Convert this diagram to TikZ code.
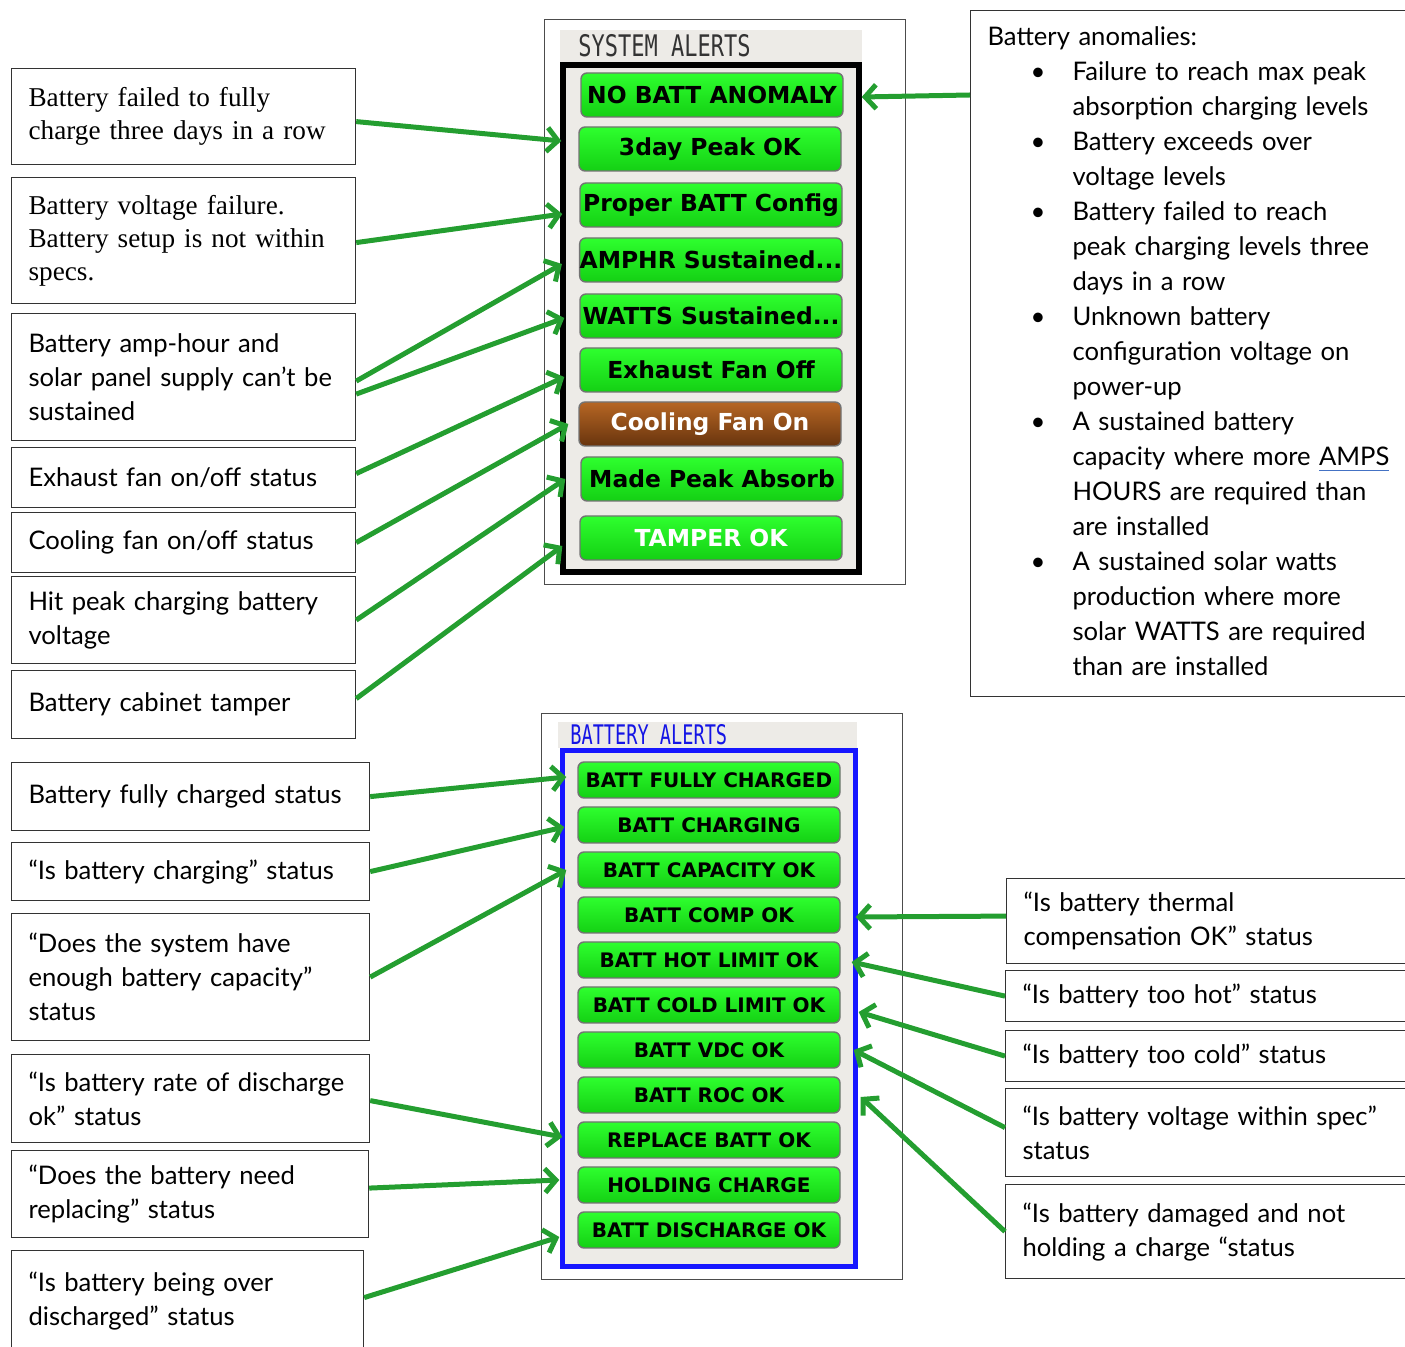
\documentclass[tikz,border=0pt]{standalone}
\usepackage{fontspec}
\usepackage{tikz}
\usetikzlibrary{calc, arrows.meta}
\setmainfont{Lato}
\newfontfamily\serifnote{Liberation Serif}
\newfontfamily\btnfont{DejaVu Sans}
\newfontfamily\hdrfont{DejaVu Sans Mono}
\definecolor{arrgreen}{RGB}{36,158,48}
\definecolor{btntop}{RGB}{46,255,46}
\definecolor{btnbot}{RGB}{20,208,20}
\definecolor{browntop}{RGB}{182,102,36}
\definecolor{brownbot}{RGB}{104,52,14}
\definecolor{panelgray}{RGB}{237,235,231}
\definecolor{alertblue}{RGB}{22,22,255}
\definecolor{linkblue}{RGB}{68,114,196}
\newcommand\ulblue[1]{\setbox0\hbox{#1}\rlap{\color{linkblue}\rule[-2.6pt]{\wd0}{0.6pt}}\box0}

\begin{document}
\begin{tikzpicture}[x=0.5pt,y=-0.5pt]
\tikzstyle{note}=[draw=black!80,line width=0.6pt,anchor=north west,inner xsep=8.5pt,inner ysep=0pt,align=left,font=\fontsize{12.8}{17}\selectfont]
\tikzstyle{snote}=[note,font=\serifnote\fontsize{13.6}{16.5}\selectfont]
\tikzstyle{sbtn}=[draw=black!55,line width=0.7pt,rounded corners=3pt,top color=btntop,bottom color=btnbot,minimum width=131pt,minimum height=22pt,inner sep=0pt,font=\btnfont\bfseries\fontsize{11.7}{12}\selectfont]
\tikzstyle{bbtn}=[sbtn,minimum height=18pt,font=\btnfont\bfseries\fontsize{10}{11}\selectfont]
\tikzstyle{arr}=[draw=arrgreen,line width=2.5pt,-{Straight Barb[length=5.5pt,width=12pt]}]

\useasboundingbox (0,0) rectangle (1405,1347);
\clip (0,0) rectangle (1405,1347);

\draw[black!70,line width=0.5pt] (544,20) rectangle (905,585);
\fill[panelgray] (560,30) rectangle (862,62);
\draw[line width=3pt,fill=panelgray] (563,65) rectangle (859,572);
\node[anchor=west,inner sep=0pt,text=black!80,font=\hdrfont\fontsize{11}{11}\selectfont] (S_0) at (578,46) {\scalebox{1}[1.35]{SYSTEM ALERTS}};

\draw[black!70,line width=0.5pt] (541,714) rectangle (902,1279);
\fill[panelgray] (558,722) rectangle (857,748);
\draw[alertblue,line width=2.5pt,fill=panelgray] (562.5,750.5) rectangle (855,1266.5);
\node[anchor=west,inner sep=0pt,text=alertblue!90!black,font=\hdrfont\fontsize{9.3}{10}\selectfont] (B_0) at (570,735) {\scalebox{1}[1.45]{BATTERY ALERTS}};

\node[sbtn] (S_1) at (712,95) {NO BATT ANOMALY};
\node[sbtn] (S_2) at (710,149) {3day Peak OK};
\node[sbtn] (S_3) at (711,205) {Proper BATT Config};
\node[sbtn] (S_4) at (711,260) {AMPHR Sustained...};
\node[sbtn] (S_5) at (711,316) {WATTS Sustained...};
\node[sbtn] (S_6) at (711,370) {Exhaust Fan Off};
\node[sbtn,top color=browntop,bottom color=brownbot,text=white] (S_7) at (710,424) {Cooling Fan On};
\node[sbtn] (S_8) at (712,479) {Made Peak Absorb};
\node[sbtn,text=white] (S_9) at (711,538) {TAMPER OK};

\node[bbtn] (B_1) at (709,780) {BATT FULLY CHARGED};
\node[bbtn] (B_2) at (709,825) {BATT CHARGING};
\node[bbtn] (B_3) at (709,870) {BATT CAPACITY OK};
\node[bbtn] (B_4) at (709,915) {BATT COMP OK};
\node[bbtn] (B_5) at (709,960) {BATT HOT LIMIT OK};
\node[bbtn] (B_6) at (709,1005) {BATT COLD LIMIT OK};
\node[bbtn] (B_7) at (709,1050) {BATT VDC OK};
\node[bbtn] (B_8) at (709,1095) {BATT ROC OK};
\node[bbtn] (B_9) at (709,1140) {REPLACE BATT OK};
\node[bbtn] (B_10) at (709,1185) {HOLDING CHARGE};
\node[bbtn] (B_11) at (709,1230) {BATT DISCHARGE OK};

\node[snote,text width=155pt,minimum height=48pt] (L_1) at (11,68) {Battery failed to fully\\charge three days in a row};
\node[snote,text width=155pt,minimum height=63pt] (L_2) at (11,177) {Battery voltage failure.\\Battery setup is not within\\specs.};
\node[note,text width=155pt,minimum height=63.5pt] (L_3) at (11,313) {Battery amp-hour and\\solar panel supply can’t be\\sustained};
\node[note,text width=155pt,minimum height=30pt] (L_4) at (11,447) {Exhaust fan on/off status};
\node[note,text width=155pt,minimum height=30pt] (L_5) at (11,512) {Cooling fan on/off status};
\node[note,text width=155pt,minimum height=43.5pt] (L_6) at (11,576) {Hit peak charging battery\\voltage};
\node[note,text width=155pt,minimum height=34pt] (L_7) at (11,670) {Battery cabinet tamper};
\node[note,text width=162pt,minimum height=34pt] (L_8) at (11,762) {Battery fully charged status};
\node[note,text width=162pt,minimum height=29pt] (L_9) at (11,842) {“Is battery charging” status};
\node[note,text width=162pt,minimum height=63.5pt] (L_10) at (11,913) {“Does the system have\\enough battery capacity”\\status};
\node[note,text width=162pt,minimum height=44pt] (L_11) at (11,1054) {“Is battery rate of discharge\\ok” status};
\node[note,text width=161.5pt,minimum height=43.5pt] (L_12) at (11,1150) {“Does the battery need\\replacing” status};
\node[note,text width=159pt,minimum height=50pt] (L_13) at (11,1250) {“Is battery being over\\discharged” status};

\node[note,text width=208pt,inner ysep=5.25pt,font=\fontsize{12.8}{17.5}\selectfont] (A_0) at (970,10) {%
\begin{tabular}{@{}p{21.5pt}@{}p{21pt}@{}l@{}}
\multicolumn{3}{@{}l@{}}{Battery anomalies:}\\
&\textbullet&Failure to reach max peak\\
&&absorption charging levels\\
&\textbullet&Battery exceeds over\\
&&voltage levels\\
&\textbullet&Battery failed to reach\\
&&peak charging levels three\\
&&days in a row\\
&\textbullet&Unknown battery\\
&&configuration voltage on\\
&&power-up\\
&\textbullet&A sustained battery\\
&&capacity where more \ulblue{AMPS}\\
&&HOURS are required than\\
&&are installed\\
&\textbullet&A sustained solar watts\\
&&production where more\\
&&solar WATTS are required\\
&&than are installed
\end{tabular}};

\node[note,text width=203pt,minimum height=42.5pt] (R_1) at (1006,878) {“Is battery thermal\\compensation OK” status};
\node[note,text width=203pt,minimum height=25.5pt] (R_2) at (1005,970) {“Is battery too hot” status};
\node[note,text width=203pt,minimum height=25.5pt] (R_3) at (1005,1030) {“Is battery too cold” status};
\node[note,text width=203pt,minimum height=44pt] (R_4) at (1005,1088) {“Is battery voltage within spec”\\status};
\node[note,text width=203pt,minimum height=47pt] (R_5) at (1005,1184) {“Is battery damaged and not\\holding a charge “status};

\draw[arr] ([yshift=-2.5pt]L_1.east) -- ([xshift=-8.5pt,yshift=4pt]S_2.west);
\draw[arr] ([yshift=-1pt]L_2.east) -- ([xshift=-8.5pt,yshift=-4.5pt]S_3.west);
\draw[arr] ([yshift=-2pt]L_3.east) -- ([xshift=-8.5pt,yshift=-2pt]S_4.west);
\draw[arr] ([yshift=-8.5pt]L_3.east) -- ([xshift=-7.5pt,yshift=-1pt]S_5.west);
\draw[arr] ([yshift=2pt]L_4.east) -- ([xshift=-7.5pt,yshift=-3.5pt]S_6.west);
\draw[arr] (L_5.east) -- ([xshift=-5pt]S_7.west);
\draw[arr] (L_6.east) -- ([xshift=-7.5pt]S_8.west);
\draw[arr] ([yshift=3pt]L_7.east) -- ([xshift=-8.5pt,yshift=-4pt]S_9.west);
\draw[arr] (S_1.east -| A_0.west) -- ([xshift=9pt,yshift=-1pt]S_1.east);

\draw[arr] (L_8.east) -- ([xshift=-5.5pt,yshift=1.5pt]B_1.west);
\draw[arr] (L_9.east) -- ([xshift=-6.5pt,yshift=-1pt]B_2.west);
\draw[arr] (L_10.east) -- ([xshift=-5.5pt]B_3.west);
\draw[arr] ([yshift=-1pt]L_11.east) -- ([xshift=-7.5pt,yshift=1.5pt]B_9.west);
\draw[arr] ([yshift=3pt]L_12.east) -- ([xshift=-9pt,yshift=2.5pt]B_10.west);
\draw[arr] ([yshift=1.5pt]L_13.east) -- ([xshift=-9pt,yshift=-3.5pt]B_11.west);

\draw[arr] ([yshift=2.5pt]R_1.west) -- ([xshift=7.5pt,yshift=-1pt]B_4.east);
\draw[arr] (R_2.west) -- ([xshift=5.5pt,yshift=-1pt]B_5.east);
\draw[arr] (R_3.west) -- ([xshift=9pt,yshift=-3.5pt]B_6.east);
\draw[arr] ([yshift=2.5pt]R_4.west) -- ([xshift=6.5pt]B_7.east);
\draw[arr] (R_5.west) -- ([xshift=10pt,yshift=-1pt]B_8.east);
\end{tikzpicture}
\end{document}
